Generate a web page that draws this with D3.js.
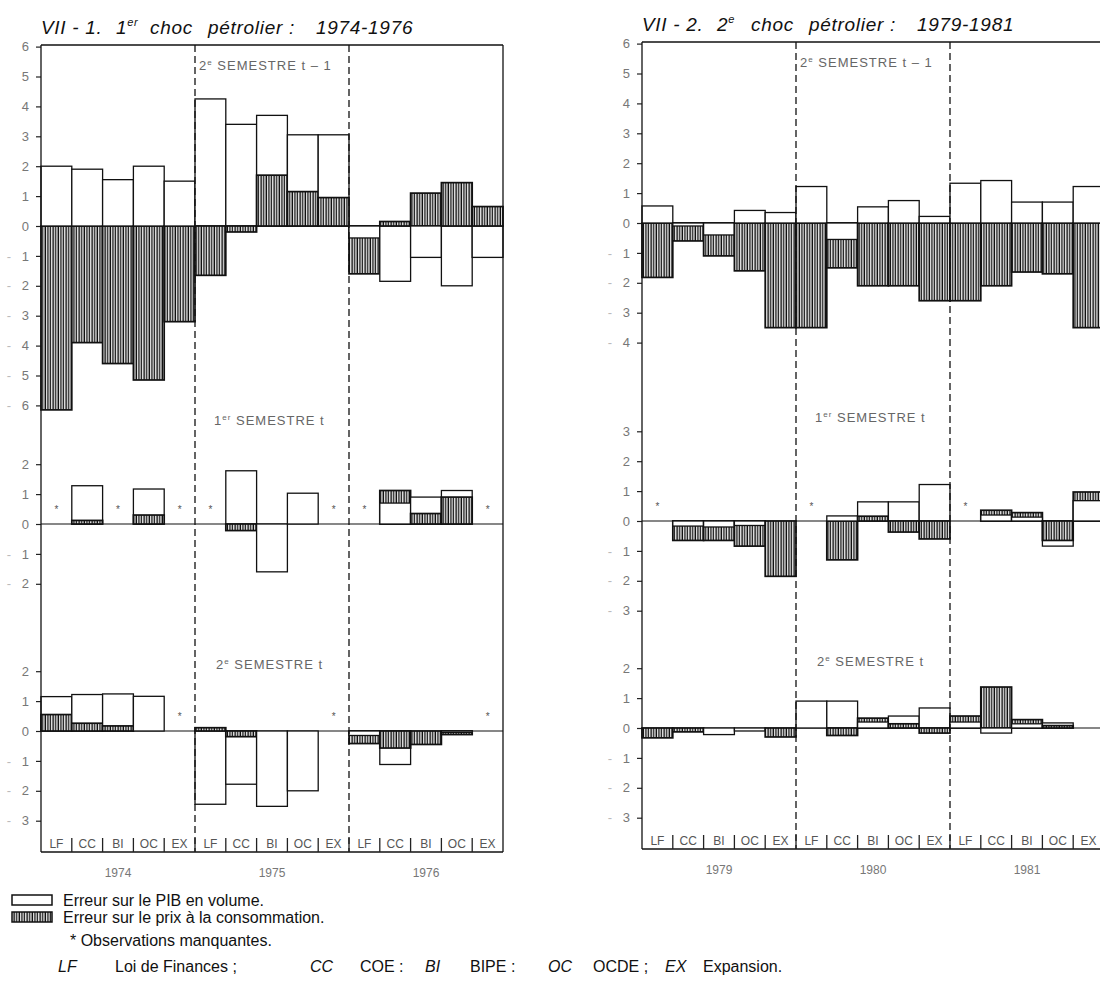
<!DOCTYPE html>
<html><head><meta charset="utf-8">
<script src="https://cdn.jsdelivr.net/npm/d3@7"></script>
<style>
body{margin:0;background:#fff;}
svg{display:block;font-family:"Liberation Sans",Arial,Helvetica,sans-serif;}
</style></head><body>
<svg id="chart" width="1100" height="986"></svg>
<script>
// ---------- DATA ----------
const institutions = ["LF","CC","BI","OC","EX"];
const yearsChoc1 = ["1974","1975","1976"];
const yearsChoc2 = ["1979","1980","1981"];
const semesterLabels = [["2","e"," SEMESTRE t – 1"],["1","er"," SEMESTRE t"],["2","e"," SEMESTRE t"]];

// 1er choc : values ordered 1974 LF..EX, 1975 LF..EX, 1976 LF..EX ; null = observation manquante
const choc1_s1_pib  = [2.0, 1.9, 1.55, 2.0, 1.5,   4.25, 3.4, 3.7, 3.05, 3.05,   -0.4, -1.85, -1.05, -2.0, -1.05];
const choc1_s1_prix = [-6.15, -3.9, -4.6, -5.15, -3.2,   -1.65, -0.2, 1.7, 1.15, 0.95,   -1.6, 0.15, 1.1, 1.45, 0.65];
const choc1_s2_pib  = [null, 1.28, null, 1.17, null,   null, 1.78, -1.6, 1.03, null,   null, 0.7, 0.9, 1.12, null];
const choc1_s2_prix = [null, 0.12, null, 0.3, null,   null, -0.22, 0, 0, null,   null, 1.12, 0.35, 0.9, null];
const choc1_s3_pib  = [1.15, 1.22, 1.24, 1.16, null,   -2.45, -1.78, -2.52, -2.0, null,   -0.15, -1.12, 0, -0.05, null];
const choc1_s3_prix = [0.55, 0.26, 0.17, 0, null,   0.11, -0.19, 0, 0, null,   -0.42, -0.57, -0.45, -0.12, null];

// 2e choc : 1979, 1980, 1981
const choc2_s1_pib  = [0.57, -0.1, -0.4, 0.42, 0.35,   1.22, -0.55, 0.54, 0.75, 0.22,   1.33, 1.42, 0.7, 0.7, 1.22];
const choc2_s1_prix = [-1.82, -0.6, -1.1, -1.6, -3.5,   -3.5, -1.5, -2.1, -2.1, -2.6,   -2.6, -2.1, -1.64, -1.7, -3.5];
const choc2_s2_pib  = [null, -0.17, -0.2, -0.15, 0,   null, 0.17, 0.64, 0.64, 1.22,   null, 0.2, 0.13, -0.84, 0.68];
const choc2_s2_prix = [null, -0.65, -0.65, -0.84, -1.85,   null, -1.3, 0.16, -0.37, -0.6,   null, 0.36, 0.28, -0.65, 0.97];
const choc2_s3_pib  = [0, 0, -0.22, -0.1, 0,   0.9, 0.9, 0.2, 0.4, 0.67,   0.2, -0.17, 0.14, 0.17, 0];
const choc2_s3_prix = [-0.33, -0.13, 0, 0, -0.3,   0, -0.25, 0.33, 0.14, -0.17,   0.4, 1.37, 0.28, 0.08, 0];

const choc1TickRanges = [[-6,6],[-2,2],[-3,2]];
const choc2TickRanges = [[-4,6],[-3,3],[-3,2]];

const titleChoc1 = [["VII - 1."],["1","er"],["choc"],["pétrolier :"],["1974-1976"]];
const titleChoc2 = [["VII - 2."],["2","e"],["choc"],["pétrolier :"],["1979-1981"]];

const legendItems = ["Erreur sur le PIB en volume.","Erreur sur le prix à la consommation."];
const noteMissing = "* Observations manquantes.";
const abbrevs = [["LF","Loi de Finances ;"],["CC","COE :"],["BI","BIPE :"],["OC","OCDE ;"],["EX","Expansion."]];

// ---------- LAYOUT ----------
const svg = d3.select("#chart");
const defs = svg.append("defs");
const pat = defs.append("pattern").attr("id","hatch").attr("patternUnits","userSpaceOnUse")
  .attr("width",2.6).attr("height",10);
pat.append("rect").attr("width",2.6).attr("height",10).attr("fill","#fff");
pat.append("rect").attr("x",0.4).attr("width",1.4).attr("height",10).attr("fill","#111");

const unit = 29.9, groupW = 154;
const zeroY = [226, 524, 731];
const frameTop = 45, frameBottom = 852;
const semLabelY = [70, 425, 669];
const titleOffsets = [0, 75, 109, 167, 275];
const semOffsets = [4, 19, 21];

const panels = [
  {x0: 41, dy: 0, years: yearsChoc1, title: titleChoc1, titleY: 34,
   pib: [choc1_s1_pib, choc1_s2_pib, choc1_s3_pib],
   prix: [choc1_s1_prix, choc1_s2_prix, choc1_s3_prix],
   ticks: choc1TickRanges},
  {x0: 642, dy: -3, years: yearsChoc2, title: titleChoc2, titleY: 34,
   pib: [choc2_s1_pib, choc2_s2_pib, choc2_s3_pib],
   prix: [choc2_s1_prix, choc2_s2_prix, choc2_s3_prix],
   ticks: choc2TickRanges}
];

panels.forEach(p => {
  const g = svg.append("g").attr("transform", `translate(0,${p.dy})`);
  const keys = [];
  p.years.forEach(y => institutions.forEach(c => keys.push(y + "-" + c)));
  const x = d3.scaleBand().domain(keys).range([p.x0, p.x0 + 3*groupW]).padding(0);
  const xYear = d3.scaleBand().domain(p.years).range([p.x0, p.x0 + 3*groupW]).padding(0);
  const xRight = p.x0 + 3*groupW;

  // title
  const t = g.append("text").attr("y", p.titleY).attr("font-size", 19).attr("font-style","italic")
    .attr("letter-spacing", 0.7).attr("fill","#111");
  p.title.forEach((part, i) => {
    t.append("tspan").attr("x", p.x0 + titleOffsets[i]).attr("y", p.titleY).text(part[0]);
    if (part[1]) t.append("tspan").attr("font-size", 11).attr("dy", -8).text(part[1]);
  });

  // sub-panels
  zeroY.forEach((zy, s) => {
    const ys = d3.scaleLinear().domain([0, 1]).range([zy, zy - unit]);
    const [tmin, tmax] = p.ticks[s];
    const ax = g.append("g").attr("transform", `translate(${p.x0},0)`)
      .call(d3.axisLeft(ys).tickValues(d3.range(tmin, tmax + 1)).tickSize(5).tickPadding(7)
        .tickFormat(d => Math.abs(d)));
    ax.select(".domain").remove();
    ax.selectAll(".tick line").attr("stroke","#222").attr("stroke-width",1.2);
    ax.selectAll(".tick text").attr("fill","#777").attr("font-size",13)
      .attr("font-family","Liberation Sans, Arial, sans-serif");
    ax.selectAll(".tick").filter(d => d < 0).append("text")
      .attr("x", -30).attr("dy","0.32em").attr("fill","#bbb").attr("font-size",13)
      .attr("text-anchor","end").text("-");

    // zero line
    g.append("line").attr("x1", p.x0).attr("x2", xRight).attr("y1", ys(0)).attr("y2", ys(0))
      .attr("stroke","#111").attr("stroke-width",1.2);

    // bars
    keys.forEach((k, i) => {
      const vp = p.pib[s][i], vx = p.prix[s][i];
      if (vp === null && vx === null) {
        g.append("text").attr("x", x(k) + x.bandwidth()/2).attr("y", ys(0.5)).attr("dy","0.35em")
          .attr("text-anchor","middle").attr("font-size",10).attr("fill","#555").text("*");
        return;
      }
      const items = [{v: vp, type: "pib"}, {v: vx, type: "prix"}]
        .filter(d => d.v !== null && d.v !== 0)
        .sort((a, b) => Math.abs(b.v) - Math.abs(a.v));
      items.forEach(d => {
        g.append("rect")
          .attr("x", x(k)).attr("width", x.bandwidth())
          .attr("y", Math.min(ys(0), ys(d.v))).attr("height", Math.abs(ys(d.v) - ys(0)))
          .attr("fill", d.type === "pib" ? "#fff" : "url(#hatch)")
          .attr("stroke", "#111").attr("stroke-width", d.type === "pib" ? 1.3 : 1.7);
      });
    });

    // semester label
    const lab = semesterLabels[s];
    const st = g.append("text").attr("x", xYear(p.years[1]) + semOffsets[s]).attr("y", semLabelY[s])
      .attr("font-size",13).attr("fill","#666").attr("letter-spacing",1);
    st.append("tspan").text(lab[0]);
    st.append("tspan").attr("font-size",8).attr("dy",-5).text(lab[1]);
    st.append("tspan").attr("dy",5).text(lab[2]);
  });

  // frame
  g.append("line").attr("x1",p.x0).attr("x2",p.x0).attr("y1",frameTop).attr("y2",frameBottom)
    .attr("stroke","#111").attr("stroke-width",1.3);
  g.append("line").attr("x1",p.x0).attr("x2",xRight).attr("y1",frameTop).attr("y2",frameTop)
    .attr("stroke","#111").attr("stroke-width",1.3);
  g.append("line").attr("x1",xRight).attr("x2",xRight).attr("y1",frameTop).attr("y2",frameBottom)
    .attr("stroke","#111").attr("stroke-width",1.3);
  g.append("line").attr("x1",p.x0).attr("x2",xRight).attr("y1",frameBottom).attr("y2",frameBottom)
    .attr("stroke","#111").attr("stroke-width",1.5);

  // dashed year separators
  p.years.slice(1).forEach(yr => {
    g.append("line").attr("x1",xYear(yr)).attr("x2",xYear(yr)).attr("y1",frameTop).attr("y2",frameBottom)
      .attr("stroke","#111").attr("stroke-width",1.3).attr("stroke-dasharray","7,4");
  });

  // institution labels inside bottom & separators
  keys.forEach((k, i) => {
    g.append("text").attr("x", x(k) + x.bandwidth()/2).attr("y", frameBottom - 4)
      .attr("text-anchor","middle").attr("font-size",12).attr("fill","#555").text(institutions[i % 5]);
    if (i > 0) g.append("line").attr("x1", x(k)).attr("x2", x(k)).attr("y1", frameBottom - 14)
      .attr("y2", frameBottom).attr("stroke","#222").attr("stroke-width",1.3);
  });

  // years
  p.years.forEach(yr => {
    g.append("text").attr("x", xYear(yr) + xYear.bandwidth()/2).attr("y", frameBottom + 25)
      .attr("text-anchor","middle").attr("font-size",12).attr("fill","#777").text(yr);
  });
});

// ---------- LEGEND ----------
const lg = svg.append("g");
lg.append("rect").attr("x",12).attr("y",895).attr("width",40).attr("height",10)
  .attr("fill","#fff").attr("stroke","#111").attr("stroke-width",1.5);
lg.append("rect").attr("x",12).attr("y",912).attr("width",40).attr("height",10)
  .attr("fill","url(#hatch)").attr("stroke","#111").attr("stroke-width",1.5);
lg.append("text").attr("x",63).attr("y",906).attr("font-size",16).attr("fill","#111").text(legendItems[0]);
lg.append("text").attr("x",63).attr("y",923).attr("font-size",16).attr("fill","#111").text(legendItems[1]);
lg.append("text").attr("x",70).attr("y",946).attr("font-size",16).attr("fill","#111").text(noteMissing);
const abX = [[58,115],[310,360],[425,470],[548,593],[665,703]];
abbrevs.forEach((a, i) => {
  lg.append("text").attr("x",abX[i][0]).attr("y",972).attr("font-size",16).attr("font-style","italic")
    .attr("fill","#111").text(a[0]);
  lg.append("text").attr("x",abX[i][1]).attr("y",972).attr("font-size",16).attr("fill","#111").text(a[1]);
});
</script>
</body></html>
